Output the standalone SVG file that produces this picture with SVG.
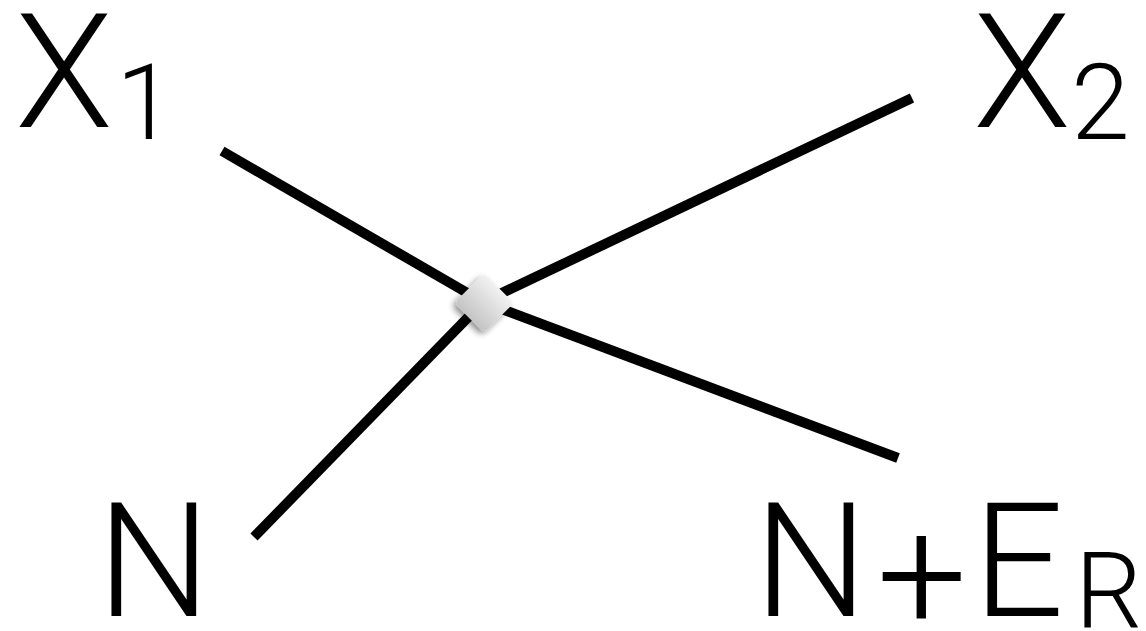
<svg xmlns="http://www.w3.org/2000/svg" width="1146" height="631" viewBox="0 0 1146 631">
<defs>
<style>
.lbl{font-family:Roboto,"Liberation Sans",sans-serif;font-weight:300;fill:#000}
.big{font-size:160px}
.sub{font-size:106px}
.edge{stroke:#000;stroke-width:10;fill:none}
</style>
<linearGradient id="dg" x1="0" y1="0" x2="0" y2="1">
<stop offset="0" stop-color="#f2f2f2"/>
<stop offset="1" stop-color="#c4c4c4"/>
</linearGradient>
<filter id="sh" x="-50%" y="-50%" width="200%" height="200%">
<feGaussianBlur in="SourceAlpha" stdDeviation="3"/>
<feOffset dx="0" dy="4"/>
<feComponentTransfer><feFuncA type="linear" slope="0.45"/></feComponentTransfer>
<feMerge><feMergeNode/><feMergeNode in="SourceGraphic"/></feMerge>
</filter>
</defs>
<rect width="1146" height="631" fill="#fff"/>
<g id="connectors">
<line class="edge" x1="222" y1="151" x2="483" y2="302"/>
<line class="edge" x1="912" y1="98" x2="483" y2="302"/>
<line class="edge" x1="898" y1="458" x2="483" y2="302"/>
<line class="edge" x1="254" y1="537" x2="483" y2="302"/>
</g>
<g id="vertex">
<rect x="463" y="282" width="42" height="42" rx="5" fill="url(#dg)" filter="url(#sh)" transform="rotate(45 484 303)"/>
</g>
<g id="X1">
<text class="lbl big" x="15" y="127">X</text>
<text class="lbl sub" x="116" y="139">1</text>
</g>
<g id="X2">
<text class="lbl big" x="973" y="127">X</text>
<text class="lbl sub" x="1071" y="139">2</text>
</g>
<g id="N">
<text class="lbl big" x="97" y="616">N</text>
</g>
<g id="NER">
<text class="lbl big" x="754" y="616">N</text>
<text class="lbl big" x="922" y="630" text-anchor="middle">+</text>
<text class="lbl big" x="973" y="616">E</text>
<text class="lbl sub" x="1075" y="627">R</text>
</g>
</svg>
